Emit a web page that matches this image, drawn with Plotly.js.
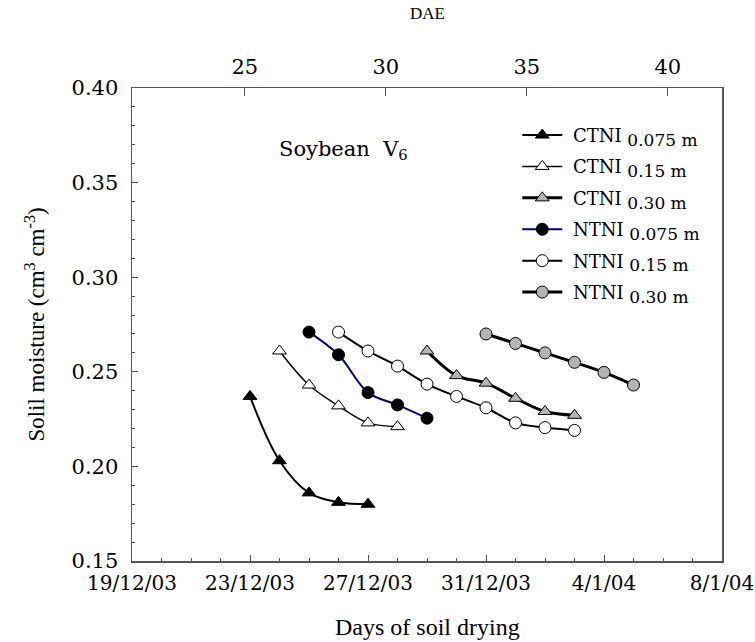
<!DOCTYPE html>
<html>
<head>
<meta charset="utf-8">
<script src="https://cdn.plot.ly/plotly-3.0.1.min.js"></script>
<style>html,body{margin:0;padding:0;background:#fff;}#chart{width:755px;height:642px;}</style>
</head>
<body>
<div id="chart"></div>
<script>
// ---- data ----
const datesCTNI075 = ['2003-12-23','2003-12-24','2003-12-25','2003-12-26','2003-12-27'];
const valsCTNI075  = [0.237, 0.203, 0.186, 0.181, 0.180];

const datesCTNI15 = ['2003-12-24','2003-12-25','2003-12-26','2003-12-27','2003-12-28'];
const valsCTNI15  = [0.261, 0.243, 0.232, 0.223, 0.221];

const datesCTNI30 = ['2003-12-29','2003-12-30','2003-12-31','2004-01-01','2004-01-02','2004-01-03'];
const valsCTNI30  = [0.261, 0.248, 0.244, 0.236, 0.229, 0.227];

const datesNTNI075 = ['2003-12-25','2003-12-26','2003-12-27','2003-12-28','2003-12-29'];
const valsNTNI075  = [0.271, 0.259, 0.239, 0.2325, 0.2255];

const datesNTNI15 = ['2003-12-26','2003-12-27','2003-12-28','2003-12-29','2003-12-30','2003-12-31','2004-01-01','2004-01-02','2004-01-03'];
const valsNTNI15  = [0.271, 0.261, 0.253, 0.2435, 0.237, 0.231, 0.223, 0.2205, 0.219];

const datesNTNI30 = ['2003-12-31','2004-01-01','2004-01-02','2004-01-03','2004-01-04','2004-01-05'];
const valsNTNI30  = [0.270, 0.265, 0.260, 0.255, 0.2497, 0.243];

const xTickVals  = ['2003-12-19','2003-12-23','2003-12-27','2003-12-31','2004-01-04','2004-01-08'];
const xTickText  = ['19/12/03','23/12/03','27/12/03','31/12/03','4/1/04','8/1/04'];
const daeTicks   = [25, 30, 35, 40];
const yTickVals  = [0.15, 0.20, 0.25, 0.30, 0.35, 0.40];

const seriesNames = [
  '&nbsp;CTNI <sub><span style="font-size:17px">0.075 m</span></sub>',
  '&nbsp;CTNI <sub><span style="font-size:17px">0.15 m</span></sub>',
  '&nbsp;CTNI <sub><span style="font-size:17px">0.30 m</span></sub>',
  '&nbsp;NTNI <sub><span style="font-size:17px">0.075 m</span></sub>',
  '&nbsp;NTNI <sub><span style="font-size:17px">0.15 m</span></sub>',
  '&nbsp;NTNI <sub><span style="font-size:17px">0.30 m</span></sub>'
];

function tr(x, y, name, lineColor, lineWidth, symbol, fill, group) {
  return {
    x: x, y: y, name: name, type: 'scatter', mode: 'lines+markers',
    legendgroup: group,
    line: {color: lineColor, width: lineWidth, shape: 'spline', smoothing: 1},
    marker: {symbol: symbol, size: 12, color: fill, line: {color: '#000', width: 1}},
    xaxis: 'x', yaxis: 'y'
  };
}

const data = [
  tr(datesCTNI075, valsCTNI075, seriesNames[0], '#000', 2, 'triangle-up', '#000', 'g1'),
  tr(datesCTNI15,  valsCTNI15,  seriesNames[1], '#000', 1.5, 'triangle-up', '#fff', 'g2'),
  tr(datesCTNI30,  valsCTNI30,  seriesNames[2], '#000', 3, 'triangle-up', '#b4b4b4', 'g3'),
  tr(datesNTNI075, valsNTNI075, seriesNames[3], '#000080', 2, 'circle', '#000', 'g4'),
  tr(datesNTNI15,  valsNTNI15,  seriesNames[4], '#000', 2, 'circle', '#fff', 'g5'),
  tr(datesNTNI30,  valsNTNI30,  seriesNames[5], '#000', 3, 'circle', '#b4b4b4', 'g6'),
  // invisible trace to activate the top DAE axis
  {x: [daeTicks[0]], y: [yTickVals[0]], xaxis: 'x2', yaxis: 'y', mode: 'markers',
   marker: {opacity: 0}, showlegend: false, hoverinfo: 'skip'}
];

const layout = {
  width: 755, height: 642,
  margin: {l: 132, r: 33, t: 88, b: 81},
  paper_bgcolor: '#fff', plot_bgcolor: '#fff',
  font: {family: 'DejaVu Serif', color: '#000', size: 16},
  showlegend: true,
  legend: {
    x: 0.653, y: 0.939, xanchor: 'left', yanchor: 'top',
    bgcolor: 'rgba(0,0,0,0)', borderwidth: 0,
    font: {family: 'DejaVu Serif', size: 18, color: '#000'},
    tracegroupgap: 5, itemwidth: 40
  },
  xaxis: {
    type: 'date',
    range: ['2003-12-19', '2004-01-08'],
    tickmode: 'array', tickvals: xTickVals, ticktext: xTickText,
    ticks: 'inside', ticklen: 6, tickwidth: 1, tickcolor: '#555',
    minor: {dtick: 86400000, ticks: 'inside', ticklen: 3, tickcolor: '#555', showgrid: false},
    tickfont: {family: 'DejaVu Serif', size: 20},
    ticklabelstandoff: 3,
    ticklabeloverflow: 'allow',
    showline: true, linecolor: '#555', linewidth: 1.5, mirror: true,
    showgrid: false, zeroline: false
  },
  xaxis2: {
    overlaying: 'x', side: 'top', range: [21.0, 41.92],
    tickmode: 'array', tickvals: daeTicks,
    ticks: 'inside', ticklen: 8, tickwidth: 1, tickcolor: '#555',
    tickfont: {family: 'DejaVu Serif', size: 21},
    ticklabelstandoff: 9,
    showline: false, showgrid: false, zeroline: false
  },
  yaxis: {
    range: [0.15, 0.40],
    tickmode: 'array', tickvals: yTickVals, tickformat: '.2f',
    ticks: 'inside', ticklen: 6, tickwidth: 1, tickcolor: '#555',
    minor: {dtick: 0.01, ticks: 'inside', ticklen: 3, tickcolor: '#555', showgrid: false},
    tickfont: {family: 'DejaVu Serif', size: 21},
    ticklabelstandoff: 8,
    showline: true, linecolor: '#555', linewidth: 1.5, mirror: true,
    showgrid: false, zeroline: false,
    title: {text: 'Solil moisture (cm<sup>3</sup> cm<sup>-3</sup>)', font: {family: 'Liberation Serif', size: 23}, standoff: 20}
  },
  annotations: [
    {text: 'DAE', xref: 'paper', yref: 'paper', x: 0.5, y: 1.1565, xanchor: 'center', yanchor: 'middle',
     showarrow: false, font: {family: 'Liberation Serif', size: 17}},
    {text: 'Days of soil drying', xref: 'paper', yref: 'paper', x: 0.5, y: -0.1395, xanchor: 'center', yanchor: 'middle',
     showarrow: false, font: {family: 'Liberation Serif', size: 24}},
    {text: 'Soybean  V<sub>6</sub>', xref: 'paper', yref: 'paper', x: 0.359, y: 0.869, xanchor: 'center', yanchor: 'middle',
     showarrow: false, font: {family: 'DejaVu Serif', size: 21}}
  ]
};

Plotly.newPlot('chart', data, layout, {displayModeBar: false, staticPlot: true});
</script>
</body>
</html>
